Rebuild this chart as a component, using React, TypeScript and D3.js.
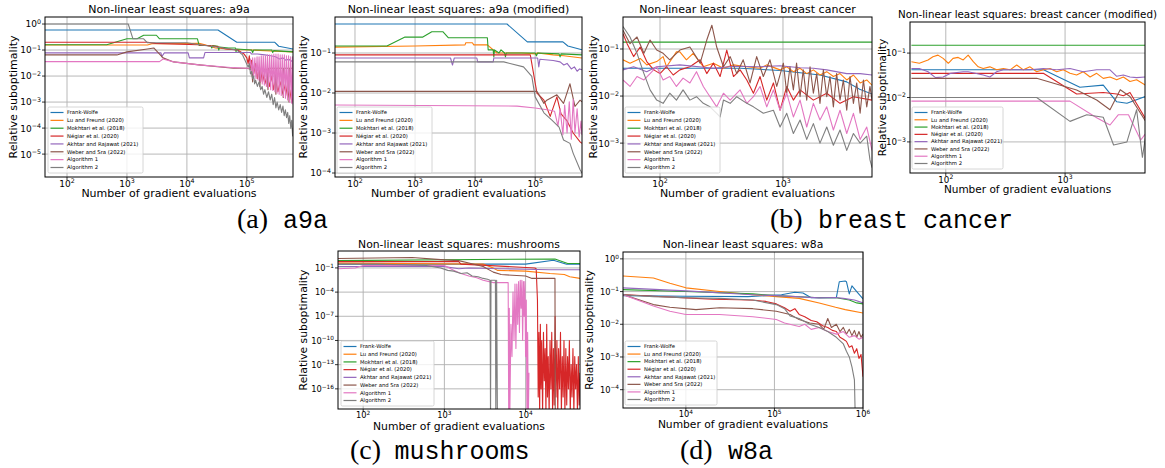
import React from 'react';
import * as d3 from 'd3';

type Pt = [number, number];

const NAMES = ['Frank-Wolfe', 'Lu and Freund (2020)', 'Mokhtari et al. (2018)', 'Négiar et al. (2020)', 'Akhtar and Rajawat (2021)', 'Weber and Sra (2022)', 'Algorithm 1', 'Algorithm 2'];
const COLORS = ['#1f77b4', '#ff7f0e', '#2ca02c', '#d62728', '#9467bd', '#8c564b', '#e377c2', '#7f7f7f'];

// ---------- (a) a9a ----------
const a9aFW: Pt[] = [[43, 0.59], [3.3e4, 0.59], [6.8e4, 0.2], [2.9e5, 0.2], [3.4e5, 0.14], [5.9e5, 0.11]];
const a9aLF: Pt[] = [[43, 0.156], [2.2e3, 0.156], [2.6e3, 0.175], [1.6e4, 0.18], [2e4, 0.16], [3e4, 0.12], [6e4, 0.105], [1.2e5, 0.1], [3e5, 0.09], [5.9e5, 0.085]];
const a9aMok: Pt[] = [[43, 0.16], [460, 0.16], [1000, 0.27], [1480, 0.27], [1900, 0.37], [3100, 0.37], [3500, 0.27], [1.5e4, 0.27], [1.6e4, 0.15], [2.5e4, 0.15], [2.6e4, 0.12], [2.7e4, 0.15], [3.3e4, 0.14], [3.4e4, 0.1], [3.5e4, 0.13], [5e4, 0.12], [6.5e4, 0.12], [6.6e4, 0.085], [6.8e4, 0.11], [1.2e5, 0.1], [1.25e5, 0.08], [1.3e5, 0.1], [2.6e5, 0.1], [2.7e5, 0.08], [2.8e5, 0.095], [5.9e5, 0.085]];
const a9aNeg: Pt[] = [[43, 0.2], [2.2e3, 0.2], [3e3, 0.18], [1.5e4, 0.16], [3e4, 0.14], [4.5e4, 0.11], [7e4, 0.1], [9e4, 0.07], [1e5, 0.05], [1.05e5, 0.03], [1.1e5, 0.06], [1.15e5, 0.02], [1.2e5, 0.04], [1.3e5, 0.012], [1.4e5, 0.03], [1.5e5, 0.008], [1.6e5, 0.02], [1.7e5, 0.006], [1.8e5, 0.015], [2e5, 0.005], [2.2e5, 0.012], [2.4e5, 0.004], [2.6e5, 0.01], [2.8e5, 0.003], [3e5, 0.008], [3.3e5, 0.0025], [3.6e5, 0.006], [4e5, 0.002], [4.4e5, 0.005], [4.8e5, 0.0015], [5.2e5, 0.003], [5.6e5, 0.001], [5.9e5, 0.0015]];
const a9aAkh: Pt[] = [[43, 0.078], [3.7e3, 0.078], [3.8e3, 0.055], [4.2e3, 0.078], [1.05e4, 0.078], [1.1e4, 0.05], [1.9e4, 0.05], [2e4, 0.08], [1.15e5, 0.08], [1.2e5, 0.07], [1.5e5, 0.07], [2e5, 0.065], [2.5e5, 0.06], [3e5, 0.055], [3.5e5, 0.045], [4e5, 0.05], [4.5e5, 0.04], [5e5, 0.045], [5.5e5, 0.037], [5.9e5, 0.042]];
const a9aWeb: Pt[] = [[43, 0.065], [680, 0.065], [1000, 0.085], [2200, 0.11], [2800, 0.12], [4000, 0.05], [6000, 0.035], [1.6e4, 0.027], [6e4, 0.02], [1e5, 0.02], [1.2e5, 0.018], [1.25e5, 0.006], [1.3e5, 0.02], [1.6e5, 0.016], [1.65e5, 0.004], [1.7e5, 0.018], [2.2e5, 0.018], [2.25e5, 0.003], [2.3e5, 0.02], [3e5, 0.02], [3.05e5, 0.002], [3.1e5, 0.02], [4e5, 0.02], [4.05e5, 0.0015], [4.1e5, 0.02], [5e5, 0.02], [5.05e5, 0.001], [5.1e5, 0.02], [5.9e5, 0.02]];
const a9aAlg1: Pt[] = [[43, 0.036], [3.5e3, 0.036], [4e3, 0.045], [6e3, 0.035], [1.6e4, 0.027], [6e4, 0.021], [1e5, 0.02], [1.10e5, 0.02], [1.15e5, 0.045], [1.20e5, 0.012], [1.25e5, 0.05], [1.30e5, 0.01], [1.36e5, 0.05], [1.42e5, 0.008], [1.48e5, 0.055], [1.54e5, 0.007], [1.60e5, 0.055], [1.67e5, 0.006], [1.74e5, 0.06], [1.81e5, 0.005], [1.88e5, 0.06], [1.96e5, 0.0045], [2.04e5, 0.06], [2.12e5, 0.004], [2.21e5, 0.065], [2.30e5, 0.0035], [2.40e5, 0.065], [2.50e5, 0.003], [2.60e5, 0.065], [2.71e5, 0.0028], [2.82e5, 0.07], [2.94e5, 0.0025], [3.06e5, 0.07], [3.19e5, 0.0022], [3.32e5, 0.07], [3.46e5, 0.002], [3.60e5, 0.065], [3.75e5, 0.0018], [3.90e5, 0.065], [4.06e5, 0.0016], [4.23e5, 0.065], [4.40e5, 0.0014], [4.58e5, 0.06], [4.77e5, 0.0012], [4.97e5, 0.06], [5.17e5, 0.001], [5.38e5, 0.055], [5.60e5, 0.0009], [5.80e5, 0.055], [5.90e5, 0.0008]];
const a9aAlg2: Pt[] = [[43, 1.0], [1050, 1.0], [1260, 0.27], [1900, 0.27], [2200, 0.19], [1e4, 0.19], [2e4, 0.15], [4e4, 0.12], [6.8e4, 0.1], [8.5e4, 0.065], [1.05e5, 0.022], [1.1e5, 0.03], [1.15e5, 0.012], [1.2e5, 0.015], [1.25e5, 0.008], [1.3e5, 0.01], [1.35e5, 0.005], [1.4e5, 0.007], [1.5e5, 0.004], [1.6e5, 0.006], [1.7e5, 0.003], [1.8e5, 0.004], [1.9e5, 0.002], [2e5, 0.003], [2.15e5, 0.0015], [2.3e5, 0.0025], [2.45e5, 0.0012], [2.6e5, 0.002], [2.75e5, 0.0008], [2.9e5, 0.0015], [3.05e5, 0.0006], [3.2e5, 0.001], [3.4e5, 0.0005], [3.6e5, 0.0008], [3.8e5, 0.0004], [4e5, 0.0007], [4.2e5, 0.0003], [4.4e5, 0.0005], [4.6e5, 0.00025], [4.8e5, 0.0004], [5e5, 0.00015], [5.2e5, 0.0003], [5.4e5, 0.0001], [5.6e5, 0.0002], [5.8e5, 0.00005], [5.9e5, 0.0001]];

// ---------- (a) a9a (modified) ----------
const a9amFW: Pt[] = [[46, 0.53], [3.4e4, 0.53], [7.4e4, 0.19], [2.9e5, 0.19], [3.5e5, 0.15], [6e5, 0.12]];
const a9amLF: Pt[] = [[46, 0.14], [1e3, 0.15], [6.8e3, 0.16], [7e3, 0.18], [9e3, 0.18], [9.5e3, 0.16], [1.6e4, 0.16], [2.3e4, 0.1], [6e4, 0.1], [1e5, 0.095], [1.1e5, 0.1], [2e5, 0.09], [3e5, 0.085], [6e5, 0.075]];
const a9amMok: Pt[] = [[46, 0.15], [340, 0.15], [680, 0.25], [1350, 0.25], [1900, 0.34], [2900, 0.34], [3600, 0.24], [1.6e4, 0.24], [1.65e4, 0.12], [2e4, 0.12], [2.05e4, 0.08], [2.1e4, 0.12], [2.5e4, 0.1], [2.7e4, 0.12], [3.1e4, 0.1], [3.2e4, 0.08], [3.3e4, 0.1], [1e5, 0.1], [1.05e5, 0.085], [1.1e5, 0.1], [2.5e5, 0.095], [2.6e5, 0.08], [2.7e5, 0.095], [6e5, 0.09]];
const a9amNeg: Pt[] = [[46, 0.09], [8.3e4, 0.09], [1.07e5, 0.01], [1.4e5, 0.0066], [1.78e5, 0.0026], [2.3e5, 0.008], [2.7e5, 0.003], [3.4e5, 0.002], [4.3e5, 0.001], [5.6e5, 0.0006], [6e5, 0.00055]];
const a9amAkh: Pt[] = [[46, 0.075], [3.9e3, 0.075], [4.2e3, 0.05], [4.5e3, 0.075], [1.07e4, 0.075], [1.1e4, 0.06], [2e4, 0.06], [2.05e4, 0.075], [1.1e5, 0.075], [1.15e5, 0.045], [1.2e5, 0.07], [2e5, 0.065], [2.6e5, 0.06], [3e5, 0.05], [3.4e5, 0.055], [4e5, 0.04], [4.5e5, 0.045], [5e5, 0.035], [5.5e5, 0.04], [6e5, 0.038]];
const a9amWeb: Pt[] = [[46, 0.011], [1.07e5, 0.011], [1.4e5, 0.0055], [1.56e5, 0.0066], [2.3e5, 0.009], [2.97e5, 0.0055], [3.8e5, 0.017], [4.6e5, 0.0046], [5.6e5, 0.0066], [6e5, 0.006]];
const a9amAlg1: Pt[] = [[46, 0.005], [5e4, 0.0047], [1e5, 0.0042], [1.78e5, 0.0037], [2.1e5, 0.0035], [2.4e5, 0.0015], [2.6e5, 0.004], [2.9e5, 0.0009], [3.1e5, 0.005], [3.4e5, 0.001], [3.7e5, 0.006], [4e5, 0.0007], [4.3e5, 0.007], [4.6e5, 0.001], [5e5, 0.004], [5.4e5, 0.0008], [5.8e5, 0.002], [6e5, 0.0009]];
const a9amAlg2: Pt[] = [[46, 0.06], [3e4, 0.06], [6.4e4, 0.045], [8.8e4, 0.026], [1e5, 0.008], [1.4e5, 0.0032], [1.9e5, 0.0021], [2.5e5, 0.0014], [2.97e5, 0.00067], [3.8e5, 0.00055], [4.3e5, 0.00031], [5.6e5, 0.00012], [6e5, 0.0001]];

// ---------- (b) breast cancer ----------
const bcFW: Pt[] = [[50, 0.039], [450, 0.039], [950, 0.035], [2000, 0.028], [3300, 0.02], [4200, 0.014], [5300, 0.011]];
const bcLF: Pt[] = [[50, 0.059], [57, 0.05], [69, 0.063], [78, 0.046], [94, 0.054], [106, 0.069], [113, 0.042], [136, 0.087], [145, 0.087], [164, 0.059], [186, 0.081], [225, 0.042], [272, 0.05], [328, 0.039], [396, 0.046], [508, 0.042], [651, 0.039], [738, 0.046], [947, 0.036], [1073, 0.042], [1215, 0.033], [1377, 0.039], [1560, 0.03], [1767, 0.036], [2000, 0.028], [2270, 0.033], [2570, 0.026], [2910, 0.03], [3300, 0.022], [3740, 0.028], [4240, 0.019], [4800, 0.022], [5300, 0.017]];
const bcMok: Pt[] = [[50, 0.14], [5300, 0.14]];
const bcNeg: Pt[] = [[50, 0.21], [54, 0.13], [61, 0.069], [69, 0.11], [78, 0.054], [89, 0.036], [100, 0.03], [113, 0.042], [128, 0.028], [145, 0.036], [175, 0.042], [212, 0.059], [240, 0.03], [272, 0.05], [308, 0.026], [349, 0.095], [396, 0.026], [448, 0.036], [508, 0.022], [575, 0.0115], [651, 0.026], [738, 0.0082], [836, 0.019], [947, 0.005], [1073, 0.016], [1215, 0.0082], [1377, 0.0135], [1767, 0.0082], [2270, 0.0115], [2910, 0.007], [3740, 0.0097], [5300, 0.0082]];
const bcAkh: Pt[] = [[50, 0.036], [61, 0.042], [78, 0.033], [94, 0.042], [145, 0.046], [272, 0.039], [400, 0.043], [650, 0.042], [950, 0.044], [1377, 0.04], [1767, 0.039], [2270, 0.036], [3300, 0.03], [4240, 0.03], [5300, 0.028]];
const bcWeb: Pt[] = [[50, 0.25], [57, 0.13], [65, 0.18], [74, 0.081], [83, 0.155], [94, 0.095], [106, 0.081], [120, 0.059], [145, 0.095], [175, 0.11], [212, 0.05], [240, 0.155], [264, 0.32], [289, 0.11], [328, 0.042], [372, 0.069], [421, 0.03], [475, 0.059], [540, 0.019], [611, 0.069], [692, 0.026], [784, 0.059], [890, 0.016], [1007, 0.05], [1073, 0.0115], [1140, 0.042], [1215, 0.0135], [1290, 0.05], [1377, 0.0097], [1462, 0.036], [1560, 0.0082], [1660, 0.042], [1767, 0.0115], [1880, 0.03], [2000, 0.007], [2130, 0.036], [2270, 0.0097], [2410, 0.026], [2570, 0.0059], [2730, 0.03], [2910, 0.0082], [3100, 0.022], [3300, 0.005], [3510, 0.026], [3740, 0.007], [3980, 0.019], [4240, 0.0043], [4510, 0.022], [4800, 0.0059], [5100, 0.016], [5300, 0.0082]];
const bcAlg1: Pt[] = [[50, 0.022], [57, 0.016], [65, 0.026], [74, 0.022], [83, 0.03], [94, 0.042], [106, 0.022], [120, 0.026], [136, 0.016], [154, 0.024], [175, 0.019], [198, 0.033], [225, 0.016], [255, 0.0097], [289, 0.0059], [328, 0.0115], [372, 0.0082], [448, 0.0135], [508, 0.007], [575, 0.0097], [651, 0.016], [738, 0.0059], [836, 0.0135], [947, 0.005], [1073, 0.0115], [1215, 0.0036], [1377, 0.0082], [1560, 0.0022], [1767, 0.007], [2000, 0.0031], [2270, 0.0059], [2570, 0.0019], [2910, 0.005], [3300, 0.0016], [3740, 0.0043], [4240, 0.0012], [4800, 0.0022], [5300, 0.0007]];
const bcAlg2: Pt[] = [[50, 0.3], [57, 0.18], [65, 0.081], [74, 0.03], [83, 0.0135], [94, 0.0082], [106, 0.007], [120, 0.0115], [136, 0.0082], [154, 0.0135], [175, 0.0082], [198, 0.0097], [225, 0.007], [255, 0.0059], [289, 0.0043], [308, 0.0036], [328, 0.0082], [372, 0.007], [421, 0.0097], [508, 0.007], [575, 0.0059], [692, 0.0043], [836, 0.005], [947, 0.0022], [1073, 0.0043], [1215, 0.0016], [1377, 0.0031], [1560, 0.0012], [1767, 0.0026], [2000, 0.001], [2270, 0.0022], [2570, 0.0009], [2910, 0.0019], [3300, 0.0007], [3740, 0.0016], [4240, 0.001], [4800, 0.0014], [5100, 0.00044], [5300, 0.0003]];

// ---------- (b) breast cancer (modified) ----------
const bcmFW: Pt[] = [[51.5, 0.042], [660, 0.042], [1330, 0.017], [2090, 0.019], [2710, 0.008], [3300, 0.0074], [4700, 0.0105]];
const bcmLF: Pt[] = [[51.5, 0.064], [60, 0.059], [71, 0.07], [78, 0.083], [86, 0.09], [95, 0.076], [105, 0.059], [115, 0.076], [127, 0.08], [140, 0.07], [154, 0.09], [170, 0.064], [187, 0.049], [206, 0.045], [234, 0.049], [267, 0.042], [304, 0.045], [346, 0.042], [393, 0.054], [447, 0.042], [508, 0.049], [578, 0.038], [657, 0.042], [747, 0.045], [850, 0.038], [967, 0.042], [1100, 0.035], [1250, 0.032], [1420, 0.038], [1620, 0.029], [1840, 0.035], [2090, 0.027], [2380, 0.029], [2710, 0.025], [3080, 0.029], [3500, 0.023], [3980, 0.025], [4700, 0.019]];
const bcmMok: Pt[] = [[51.5, 0.15], [4700, 0.15]];
const bcmNeg: Pt[] = [[51.5, 0.035], [657, 0.035], [1250, 0.012], [2090, 0.013], [2710, 0.012], [3080, 0.011], [3500, 0.013], [4700, 0.0034]];
const bcmAkh: Pt[] = [[51.5, 0.045], [60, 0.045], [71, 0.038], [82, 0.028], [95, 0.029], [110, 0.035], [140, 0.038], [154, 0.038], [206, 0.032], [234, 0.029], [267, 0.038], [304, 0.042], [393, 0.042], [508, 0.042], [657, 0.045], [850, 0.042], [1100, 0.045], [1420, 0.038], [1840, 0.042], [2380, 0.042], [2710, 0.03], [3080, 0.032], [3500, 0.029], [3980, 0.028], [4700, 0.029]];
const bcmWeb: Pt[] = [[51.5, 0.027], [578, 0.027], [1250, 0.0147], [1840, 0.0088], [2380, 0.0053], [2900, 0.015], [3500, 0.0105], [4700, 0.003]];
const bcmAlg1: Pt[] = [[51.5, 0.0083], [1100, 0.0083], [1840, 0.0035], [2380, 0.0024], [2800, 0.0041], [3400, 0.0041], [4300, 0.0011], [4700, 0.0015]];
const bcmAlg2: Pt[] = [[51.5, 0.01], [578, 0.01], [1100, 0.0029], [1520, 0.0041], [2090, 0.0036], [2550, 0.00085], [3300, 0.001], [3980, 0.0053], [4450, 0.00045], [4700, 0.0012]];

// ---------- (c) mushrooms ----------
const mFW: Pt[] = [[49, 0.3], [1e4, 0.3], [2.2e4, 0.9], [3.2e4, 0.28], [4.68e4, 0.28]];
const mLF: Pt[] = [[49, 0.4], [3e3, 0.3], [4e3, 0.1], [4.5e3, 0.05], [1e4, 0.04], [2e4, 0.02], [3e4, 0.015], [3.5e4, 0.008], [4.68e4, 0.005]];
const mMok: Pt[] = [[49, 0.8], [2.3e4, 1.3], [3.3e4, 0.35], [4.68e4, 0.35]];
const mNeg: Pt[] = [[49, 0.6], [1.5e3, 0.6], [1.6e3, 0.3], [1.3e4, 0.1], [1.35e4, 0.08], [1.40e4, 1e-5], [1.43e4, 1e-17], [1.46e4, 1e-9], [1.49e4, 1e-19], [1.52e4, 1e-8], [1.55e4, 1e-16], [1.58e4, 1e-10], [1.62e4, 1e-19], [1.66e4, 1e-9], [1.70e4, 1e-15], [1.74e4, 1e-11], [1.78e4, 1e-19], [1.82e4, 1e-8], [1.86e4, 1e-17], [1.90e4, 1e-12], [1.95e4, 1e-19], [2.00e4, 1e-10], [2.05e4, 1e-16], [2.10e4, 1e-9], [2.15e4, 1e-19], [2.20e4, 1e-11], [2.25e4, 1e-18], [2.31e4, 1e-7], [2.37e4, 1e-17], [2.43e4, 1e-10], [2.49e4, 1e-19], [2.55e4, 1e-11], [2.62e4, 1e-16], [2.69e4, 1e-9], [2.76e4, 1e-19], [2.83e4, 1e-12], [2.90e4, 1e-17], [2.97e4, 1e-10], [3.05e4, 1e-19], [3.13e4, 1e-11], [3.21e4, 1e-18], [3.29e4, 1e-12], [3.37e4, 1e-16], [3.46e4, 1e-10], [3.55e4, 1e-19], [3.64e4, 1e-13], [3.73e4, 1e-17], [3.83e4, 1e-11], [3.93e4, 1e-19], [4.03e4, 1e-12], [4.13e4, 1e-16], [4.24e4, 1e-13], [4.35e4, 1e-19], [4.46e4, 1e-12], [4.57e4, 1e-18], [4.68e4, 1e-14]];
const mAkh: Pt[] = [[49, 0.15], [1e3, 0.15], [1.5e3, 0.08], [2e3, 0.1], [5e3, 0.08], [1e4, 0.07], [2e4, 0.06], [4.68e4, 0.06]];
const mWeb: Pt[] = [[49, 1.5], [400, 2.0], [1e3, 1.0], [1.5e3, 0.8], [2e3, 0.4], [3e3, 0.15], [4e3, 0.03], [5e3, 0.015], [1e4, 0.01], [1.2e4, 0.005], [2.3e4, 0.005], [2.32e4, 1e-20]];
const mAlg1: Pt[] = [[49, 0.08], [80, 0.1], [100, 0.2], [1e3, 0.2], [1.3e3, 0.05], [1.6e3, 0.02], [2e3, 0.01], [2.5e3, 0.006], [3e3, 0.003], [4e3, 0.0015], [6.1e3, 0.0015], [6.2e3, 1e-20], [6.3e3, 1e-6], [6.4e3, 1e-19], [6.6e3, 1e-8], [6.8e3, 1e-12], [7.0e3, 1e-4], [7.2e3, 1e-10], [7.4e3, 1e-3], [7.6e3, 1e-11], [7.8e3, 1e-3], [8.0e3, 1e-8], [8.2e3, 0.002], [8.4e3, 1e-9], [8.6e3, 0.003], [8.8e3, 1e-6], [9.0e3, 0.003], [9.2e3, 1e-10], [9.4e3, 0.002], [9.6e3, 1e-7], [9.8e3, 0.002], [1.0e4, 1e-12], [1.02e4, 1e-5], [1.04e4, 1e-20], [1.06e4, 1e-9], [1.08e4, 1e-20], [1.1e4, 1e-14]];
const mAlg2: Pt[] = [[49, 0.3], [150, 0.3], [300, 0.25], [600, 0.2], [900, 0.1], [1100, 0.05], [1300, 0.04], [1600, 0.02], [1900, 0.025], [2200, 0.01], [2600, 0.008], [3000, 0.005], [3400, 0.004], [3650, 0.003], [3700, 1e-20], [3750, 0.003], [4250, 0.003], [4300, 1e-20], [4400, 0.003], [4500, 1e-20]];

// ---------- (d) w8a ----------
const wFW: Pt[] = [[1950, 0.075], [1e4, 0.072], [5e4, 0.07], [1.2e5, 0.08], [1.7e5, 0.095], [2.1e5, 0.09], [2.6e5, 0.065], [5e5, 0.065], [5.4e5, 0.2], [6.3e5, 0.21], [6.5e5, 0.2], [7e5, 0.085], [7.5e5, 0.15], [8.5e5, 0.1], [1e6, 0.06]];
const wLF: Pt[] = [[1950, 0.3], [4300, 0.26], [6600, 0.18], [1e4, 0.13], [2.4e4, 0.1], [5.7e4, 0.08], [1.05e5, 0.07], [1.9e5, 0.062], [3.2e5, 0.045], [4.9e5, 0.033], [6.3e5, 0.028], [1e6, 0.022]];
const wMok: Pt[] = [[1950, 0.115], [1e4, 0.1], [5.7e4, 0.085], [1.05e5, 0.075], [3.2e5, 0.065], [5e5, 0.065], [7e5, 0.055], [8.5e5, 0.045], [1e6, 0.042]];
const wNeg: Pt[] = [[1950, 0.081], [4300, 0.072], [1e4, 0.064], [2e4, 0.058], [4e4, 0.056], [6e4, 0.054], [8e4, 0.05], [1.05e5, 0.042], [1.3e5, 0.032], [1.5e5, 0.025], [1.7e5, 0.03], [1.9e5, 0.02], [2.2e5, 0.017], [2.6e5, 0.013], [3e5, 0.012], [3.5e5, 0.009], [4e5, 0.008], [4.5e5, 0.0065], [5e5, 0.006], [5.5e5, 0.004], [6e5, 0.0035], [6.5e5, 0.003], [7e5, 0.002], [7.5e5, 0.0022], [8e5, 0.0013], [8.5e5, 0.0018], [9e5, 0.0009], [9.5e5, 0.0012], [1e6, 0.00025]];
const wAkh: Pt[] = [[1950, 0.13], [1e4, 0.105], [5.7e4, 0.08], [1.05e5, 0.075], [3.2e5, 0.064], [4.9e5, 0.066], [6e5, 0.062], [8e5, 0.055], [1e6, 0.045]];
const wWeb: Pt[] = [[1950, 0.081], [4300, 0.04], [6600, 0.033], [1.3e4, 0.028], [2.4e4, 0.032], [5.7e4, 0.03], [1.05e5, 0.025], [1.5e5, 0.02], [1.9e5, 0.014], [2.5e5, 0.011], [3.2e5, 0.01], [3.6e5, 0.007], [4e5, 0.015], [4.4e5, 0.008], [5e5, 0.01], [5.5e5, 0.006], [6e5, 0.008], [6.5e5, 0.005], [7e5, 0.007], [7.5e5, 0.0045], [8e5, 0.0065], [8.5e5, 0.004], [9e5, 0.006], [9.5e5, 0.004], [1e6, 0.005]];
const wAlg1: Pt[] = [[1950, 0.081], [4300, 0.036], [6600, 0.025], [1e4, 0.02], [2.4e4, 0.02], [5.7e4, 0.017], [1.05e5, 0.014], [1.3e5, 0.011], [1.9e5, 0.0085], [2.2e5, 0.01], [2.6e5, 0.007], [3.2e5, 0.008], [4e5, 0.006], [5e5, 0.005], [6e5, 0.006], [7e5, 0.004], [8e5, 0.0045], [9e5, 0.0035], [1e6, 0.004]];
const wAlg2: Pt[] = [[1950, 0.08], [4300, 0.07], [1e4, 0.065], [2.4e4, 0.062], [5.7e4, 0.055], [1.05e5, 0.04], [1.3e5, 0.03], [1.5e5, 0.018], [1.9e5, 0.015], [2.5e5, 0.01], [3.2e5, 0.008], [4e5, 0.006], [5e5, 0.004], [6e5, 0.0025], [6.5e5, 0.0015], [7e5, 0.001], [7.5e5, 0.0005], [8e5, 0.0002], [8.2e5, 1e-5]];

// tick exponents
const TICKS_A_X = [2, 3, 4, 5];
const TICKS_A_Y = [0, -1, -2, -3, -4, -5];
const TICKS_AM_Y = [-1, -2, -3, -4];
const TICKS_B_X = [2, 3];
const TICKS_B_Y = [-1, -2, -3];
const TICKS_C_X = [2, 3, 4];
const TICKS_C_Y = [-1, -4, -7, -10, -13, -16];
const TICKS_D_X = [4, 5, 6];
const TICKS_D_Y = [0, -1, -2, -3, -4];

const CAP_LABELS = ['(a)', '(b)', '(c)', '(d)'];
const CAP_NAMES = ['a9a', 'breast cancer', 'mushrooms', 'w8a'];

interface PanelCfg {
  title: string; series: Pt[][]; xDom: [number, number]; yDom: [number, number];
  xTicks: number[]; yTicks: number[];
  l: number; t: number; r: number; b: number;
  legend: [number, number, number, number];
  ylabX: number; titleY: number; xlabY: number; xtickY: number;
  fsTick: number; fsLab: number; fsTitle: number;
}

const PANELS: PanelCfg[] = [
  { title: 'Non-linear least squares: a9a', series: [a9aFW, a9aLF, a9aMok, a9aNeg, a9aAkh, a9aWeb, a9aAlg1, a9aAlg2], xDom: [10 ** 1.633, 10 ** 5.77], yDom: [10 ** -5.88, 10 ** 0.27], xTicks: TICKS_A_X, yTicks: TICKS_A_Y, l: 45, t: 17, r: 293, b: 177, legend: [48, 107, 95, 66], ylabX: 17, titleY: 13, xlabY: 197, xtickY: 187, fsTick: 9, fsLab: 11, fsTitle: 11 },
  { title: 'Non-linear least squares: a9a (modified)', series: [a9amFW, a9amLF, a9amMok, a9amNeg, a9amAkh, a9amWeb, a9amAlg1, a9amAlg2], xDom: [10 ** 1.667, 10 ** 5.78], yDom: [10 ** -4.1, 10 ** -0.1], xTicks: TICKS_A_X, yTicks: TICKS_AM_Y, l: 335, t: 17, r: 582, b: 177, legend: [337, 107, 95, 66], ylabX: 307, titleY: 13, xlabY: 197, xtickY: 187, fsTick: 9, fsLab: 11, fsTitle: 11 },
  { title: 'Non-linear least squares: breast cancer', series: [bcFW, bcLF, bcMok, bcNeg, bcAkh, bcWeb, bcAlg1, bcAlg2], xDom: [10 ** 1.699, 10 ** 3.724], yDom: [10 ** -3.72, 10 ** -0.32], xTicks: TICKS_B_X, yTicks: TICKS_B_Y, l: 623, t: 17, r: 872, b: 177, legend: [625, 107, 95, 66], ylabX: 597, titleY: 13, xlabY: 197, xtickY: 187, fsTick: 9, fsLab: 11, fsTitle: 11 },
  { title: 'Non-linear least squares: breast cancer (modified)', series: [bcmFW, bcmLF, bcmMok, bcmNeg, bcmAkh, bcmWeb, bcmAlg1, bcmAlg2], xDom: [10 ** 1.7, 10 ** 3.67], yDom: [10 ** -3.7, 10 ** -0.3], xTicks: TICKS_B_X, yTicks: TICKS_B_Y, l: 910, t: 22, r: 1145, b: 173, legend: [912, 107, 91, 62], ylabX: 886, titleY: 18, xlabY: 193, xtickY: 183, fsTick: 8.7, fsLab: 10.5, fsTitle: 10.3 },
  { title: 'Non-linear least squares: mushrooms', series: [mFW, mLF, mMok, mNeg, mAkh, mWeb, mAlg1, mAlg2], xDom: [10 ** 1.69, 10 ** 4.67], yDom: [10 ** -18.5, 10 ** 1.1], xTicks: TICKS_C_X, yTicks: TICKS_C_Y, l: 338, t: 251, r: 580, b: 409, legend: [341, 341, 93, 65], ylabX: 307, titleY: 248, xlabY: 430, xtickY: 418, fsTick: 8.3, fsLab: 10.8, fsTitle: 10.8 },
  { title: 'Non-linear least squares: w8a', series: [wFW, wLF, wMok, wNeg, wAkh, wWeb, wAlg1, wAlg2], xDom: [10 ** 3.29, 10 ** 6], yDom: [10 ** -4.56, 10 ** 0.21], xTicks: TICKS_D_X, yTicks: TICKS_D_Y, l: 623, t: 252, r: 863, b: 408, legend: [625, 341, 92, 64], ylabX: 593, titleY: 248, xlabY: 428, xtickY: 417, fsTick: 8.3, fsLab: 10.7, fsTitle: 10.8 },
];

const CAP_POS = [{ x: 237, y: 228, dx: 46 }, { x: 770, y: 228, dx: 48 }, { x: 350, y: 459, dx: 44.5 }, { x: 680, y: 459, dx: 48 }];

const SANS = 'DejaVu Sans, Verdana, sans-serif';

function supText(e: number) {
  return e < 0 ? '\u2212' + Math.abs(e) : String(e);
}

function Panel({ p, idx }: { p: PanelCfg; idx: number }) {
  const x = d3.scaleLog().domain(p.xDom).range([p.l, p.r]);
  const y = d3.scaleLog().domain(p.yDom).range([p.b, p.t]);
  const line = d3.line<Pt>().x(d => x(d[0])).y(d => y(Math.max(d[1], 1e-30)));
  const clipId = `clip-${idx}`;
  const [lx, ly, lw, lh] = p.legend;
  const step = (lh - 11) / 7;
  const cx = (p.l + p.r) / 2;
  return (
    <g fontFamily={SANS}>
      <defs>
        <clipPath id={clipId}><rect x={p.l} y={p.t} width={p.r - p.l} height={p.b - p.t} /></clipPath>
      </defs>
      <rect x={p.l} y={p.t} width={p.r - p.l} height={p.b - p.t} fill="#fff" />
      <g stroke="#b0b0b0" strokeWidth={0.9}>
        {p.xTicks.map(e => <line key={'gx' + e} x1={x(10 ** e)} x2={x(10 ** e)} y1={p.t} y2={p.b} />)}
        {p.yTicks.map(e => <line key={'gy' + e} x1={p.l} x2={p.r} y1={y(10 ** e)} y2={y(10 ** e)} />)}
      </g>
      <g clipPath={`url(#${clipId})`} fill="none" strokeWidth={1.1} strokeLinejoin="round">
        {p.series.map((s, i) => <path key={i} d={line(s) || ''} stroke={COLORS[i]} />)}
      </g>
      <rect x={p.l} y={p.t} width={p.r - p.l} height={p.b - p.t} fill="none" stroke="#000" strokeWidth={1} />
      <g stroke="#000" strokeWidth={0.8}>
        {p.xTicks.map(e => <line key={'tx' + e} x1={x(10 ** e)} x2={x(10 ** e)} y1={p.b} y2={p.b + 3} />)}
        {p.yTicks.map(e => <line key={'ty' + e} x1={p.l - 3} x2={p.l} y1={y(10 ** e)} y2={y(10 ** e)} />)}
      </g>
      {p.xTicks.map(e => (
        <text key={'lx' + e} x={x(10 ** e)} y={p.xtickY} textAnchor="middle" fontSize={p.fsTick} fill="#000">
          10<tspan dy={-p.fsTick * 0.42} fontSize={p.fsTick * 0.7}>{supText(e)}</tspan>
        </text>
      ))}
      {p.yTicks.map(e => (
        <text key={'ly' + e} x={p.l - 4} y={y(10 ** e) + p.fsTick * 0.38} textAnchor="end" fontSize={p.fsTick} fill="#000">
          10<tspan dy={-p.fsTick * 0.42} fontSize={p.fsTick * 0.7}>{supText(e)}</tspan>
        </text>
      ))}
      <text x={cx} y={p.titleY} textAnchor="middle" fontSize={p.fsTitle}>{p.title}</text>
      <text x={cx} y={p.xlabY} textAnchor="middle" fontSize={p.fsLab}>Number of gradient evaluations</text>
      <text transform={`translate(${p.ylabX},${(p.t + p.b) / 2}) rotate(-90)`} textAnchor="middle" fontSize={p.fsLab}>Relative suboptimality</text>
      <rect x={lx} y={ly} width={lw} height={lh} rx={1.5} fill="#fff" fillOpacity={0.8} stroke="#cccccc" strokeWidth={0.8} />
      {NAMES.map((n, i) => {
        const yy = ly + 5.5 + i * step;
        return (
          <g key={n}>
            <line x1={lx + 2.5} x2={lx + 15.5} y1={yy} y2={yy} stroke={COLORS[i]} strokeWidth={1.2} />
            <text x={lx + 19} y={yy + 1.8} fontSize={5.3} fill="#000">{n}</text>
          </g>
        );
      })}
    </g>
  );
}

export default function App() {
  return (
    <svg width={1165} height={468} viewBox="0 0 1165 468" style={{ position: 'absolute', left: 0, top: 0, background: '#fff' }}>
      <rect x={0} y={0} width={1165} height={468} fill="#fff" />
      {PANELS.map((p, i) => <Panel key={i} p={p} idx={i} />)}
      {CAP_LABELS.map((c, i) => (
        <g key={c}>
          <text x={CAP_POS[i].x} y={CAP_POS[i].y} fontFamily="Liberation Serif, serif" fontSize={28} fill="#000">{c}</text>
          <text x={CAP_POS[i].x + CAP_POS[i].dx} y={CAP_POS[i].y} fontFamily="Liberation Mono, monospace" fontSize={25} fill="#000">{CAP_NAMES[i]}</text>
        </g>
      ))}
    </svg>
  );
}
